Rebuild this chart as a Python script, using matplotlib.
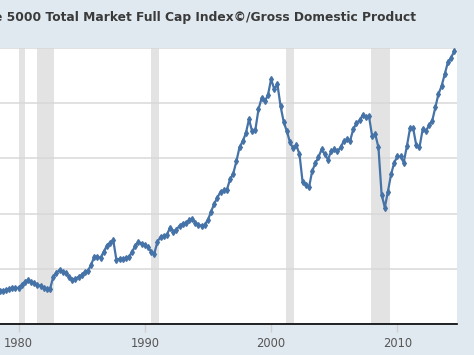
import numpy as np
import pandas as pd
import matplotlib
matplotlib.use("Agg")
import matplotlib.pyplot as plt
import matplotlib.dates as mdates

title = "Wilshire 5000 Total Market Full Cap Index\u00a9/Gross Domestic Product"

# quarterly ratio values, 1978Q1 .. 2014Q3
ratio = [
    31.3, 31.6, 32.0, 32.0,   # 1978
    32.4, 32.7, 33.1, 33.1,   # 1979
    33.1, 34.2, 35.3, 36.0,   # 1980
    35.3, 34.9, 34.2, 33.8,   # 1981
    33.1, 32.7, 32.7, 37.1,   # 1982
    38.5, 39.6, 38.9, 38.5,   # 1983
    37.1, 36.0, 36.4, 37.1,   # 1984
    37.8, 38.9, 39.3, 41.5,   # 1985
    44.4, 44.4, 44.0, 46.2,   # 1986
    48.4, 49.5, 50.5, 43.3,   # 1987
    43.6, 43.6, 44.0, 44.4,   # 1988
    46.2, 48.4, 49.8, 49.1,   # 1989
    48.7, 48.0, 46.2, 45.5,   # 1990
    49.8, 51.6, 52.0, 52.4,   # 1991
    54.9, 53.5, 54.2, 55.6,   # 1992
    56.4, 56.7, 57.5, 58.2,   # 1993
    56.7, 56.0, 55.6, 56.0,   # 1994
    57.8, 60.7, 63.6, 65.8,   # 1995
    68.0, 68.4, 68.7, 72.4,   # 1996
    74.5, 78.9, 84.0, 86.2,   # 1997
    89.1, 94.2, 89.8, 90.2,   # 1998
    97.8, 101.8, 100.7, 102.9,  # 1999
    108.7, 105.1, 106.9, 98.9,  # 2000
    93.1, 89.8, 85.8, 83.6,   # 2001
    84.7, 81.5, 71.3, 70.5,   # 2002
    69.5, 75.3, 78.2, 80.4,   # 2003
    83.3, 81.5, 79.6, 82.5,   # 2004
    83.3, 82.5, 84.0, 86.2,   # 2005
    86.9, 86.2, 90.5, 92.7,   # 2006
    93.8, 95.6, 94.9, 95.3,   # 2007
    88.0, 88.7, 84.0, 66.9,   # 2008
    62.2, 68.0, 74.2, 78.5,   # 2009
    80.7, 80.7, 78.5, 84.4,   # 2010
    90.9, 90.9, 84.7, 84.0,   # 2011
    90.5, 89.8, 92.0, 93.5,   # 2012
    98.5, 103.3, 106.2, 110.5,  # 2013
    114.9, 116.4, 118.9,      # 2014
]
dates = pd.date_range("1978-01-01", periods=len(ratio), freq="QS")

recessions = [
    ("1980-01-01", "1980-07-01"),
    ("1981-07-01", "1982-11-01"),
    ("1990-07-01", "1991-03-01"),
    ("2001-03-01", "2001-11-01"),
    ("2007-12-01", "2009-06-01"),
]
yticks = [20, 40, 60, 80, 100, 120]

bg = "#e1e9f0"
W, H = 474, 355
fig = plt.figure(figsize=(W / 100, H / 100), dpi=100, facecolor=bg)
# plot area runs off the left edge of the picture
left_px, right_px, top_px, bot_px = -32, 457, 48, 324
ax = fig.add_axes([left_px / W, 1 - bot_px / H,
                   (right_px - left_px) / W, (bot_px - top_px) / H])
ax.set_facecolor("white")

for a, b in recessions:
    ax.axvspan(pd.Timestamp(a), pd.Timestamp(b), color="#e3e3e3", lw=0, zorder=0)

ax.plot(dates, ratio, color="#4572a7", lw=1.6, marker="d", ms=3,
        mec="#4572a7", mfc="#4572a7", zorder=3)

ax.set_xlim(pd.Timestamp("1976-01-01"), pd.Timestamp("2014-09-20"))
ax.set_ylim(yticks[0], yticks[-1])
ax.set_yticks(yticks)
ax.yaxis.grid(True, color="#d8d8d8", lw=1.1)
ax.set_axisbelow(True)
ax.tick_params(axis="y", left=False, labelleft=False)

ax.xaxis.set_major_locator(mdates.YearLocator(10))
ax.xaxis.set_major_formatter(mdates.DateFormatter("%Y"))
ax.tick_params(axis="x", length=6, width=1, color="#d0d0d0", pad=3.5,
               labelsize=8.3, labelcolor="#555555")

for s in ("top", "left", "right"):
    ax.spines[s].set_visible(False)
ax.spines["bottom"].set_color("black")
ax.spines["bottom"].set_linewidth(1.2)
ax.spines["bottom"].set_zorder(4)

# the title is cut by the left edge in the reference as well
fig.text(416 / W, 1 - 17 / H, title, ha="right", va="center",
         fontsize=8.8, fontweight="bold", color="#3a3a3a")

fig.savefig("out.png", dpi=100, facecolor=bg)
